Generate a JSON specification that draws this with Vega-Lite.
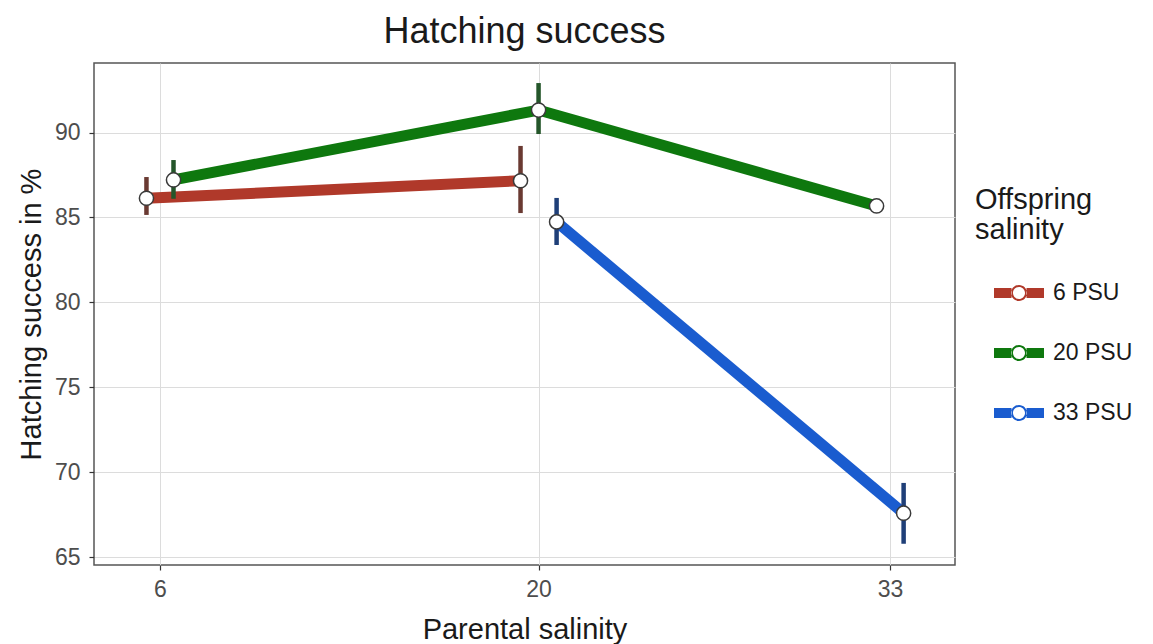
{
  "$schema": "https://vega.github.io/schema/vega-lite/v6.json",
  "width": 861,
  "height": 502,
  "autosize": "none",
  "padding": {"left": 94, "top": 63, "right": 198, "bottom": 79},
  "background": "white",
  "config": {
    "font": "Liberation Sans",
    "view": {"stroke": "#555555", "strokeWidth": 1.5},
    "axis": {
      "grid": true, "gridColor": "#dcdcdc", "gridWidth": 1,
      "domain": false, "tickColor": "#333333", "tickSize": 5, "tickWidth": 1.2,
      "labelFont": "Liberation Sans", "labelFontSize": 23, "labelColor": "#4d4d4d",
      "titleFont": "Liberation Sans", "titleFontSize": 29, "titleFontWeight": "normal", "titleColor": "#1a1a1a"
    },
    "legend": {
      "labelFont": "Liberation Sans", "labelFontSize": 23, "labelColor": "#1a1a1a",
      "titleFont": "Liberation Sans", "titleFontSize": 29, "titleFontWeight": "normal", "titleColor": "#1a1a1a"
    }
  },
  "title": {
    "text": "Hatching success",
    "fontSize": 36, "fontWeight": "normal", "color": "#1a1a1a", "font": "Liberation Sans",
    "anchor": "middle", "baseline": "alphabetic", "offset": -16
  },
  "data": {
    "values": [
      {"parental": 5.5, "offspring": "6 PSU", "mean": 86.13, "lo": 85.15, "hi": 87.38},
      {"parental": 19.333, "offspring": "6 PSU", "mean": 87.16, "lo": 85.26, "hi": 89.21},
      {"parental": 6.5, "offspring": "20 PSU", "mean": 87.21, "lo": 86.1, "hi": 88.38},
      {"parental": 20, "offspring": "20 PSU", "mean": 91.32, "lo": 89.91, "hi": 92.91},
      {"parental": 32.5, "offspring": "20 PSU", "mean": 85.68, "lo": 85.45, "hi": 85.9},
      {"parental": 20.667, "offspring": "33 PSU", "mean": 84.74, "lo": 83.38, "hi": 86.15},
      {"parental": 33.5, "offspring": "33 PSU", "mean": 67.6, "lo": 65.8, "hi": 69.38}
    ]
  },
  "layer": [
    {
      "mark": {"type": "line", "strokeWidth": 11, "strokeCap": "butt"},
      "encoding": {
        "x": {"field": "parental", "type": "quantitative",
              "scale": {"domain": [3.56, 35.4], "nice": false, "zero": false},
              "axis": {"values": [6, 20, 33], "title": "Parental salinity", "labelPadding": 8, "titlePadding": 14}},
        "y": {"field": "mean", "type": "quantitative",
              "scale": {"domain": [64.55, 94.09], "nice": false, "zero": false},
              "axis": {"values": [65, 70, 75, 80, 85, 90], "title": "Hatching success in %", "labelPadding": 9, "titlePadding": 8}},
        "color": {"field": "offspring", "type": "nominal",
                  "sort": ["6 PSU", "20 PSU", "33 PSU"],
                  "scale": {"domain": ["6 PSU", "20 PSU", "33 PSU"], "range": ["#B0392A", "#0E780E", "#1A5CCF"]},
                  "legend": {
                    "title": ["Offspring", "salinity"],
                    "orient": "none", "legendX": 881, "legendY": 123,
                    "padding": 0, "titleLineHeight": 30, "titlePadding": 23,
                    "symbolType": "M-0.24,-0.2H0.46V0.2H-0.24Z M1.06,-0.2H1.76V0.2H1.06Z M1.08,0 A0.32,0.32 0 1,0 0.44,0 A0.32,0.32 0 1,0 1.08,0 Z M1.0,0 A0.24,0.24 0 1,1 0.52,0 A0.24,0.24 0 1,1 1.0,0 Z",
                    "symbolSize": 2500, "symbolStrokeWidth": 0, "symbolOpacity": 1,
                    "labelOffset": 28, "rowPadding": 23,
                    "encode": {"symbols": {"update": {"fill": {"scale": "color", "field": "value"}, "strokeWidth": {"value": 0}}}}
                  }},
        "detail": {"field": "offspring"},
        "order": {"field": "parental", "type": "quantitative"}
      }
    },
    {
      "mark": {"type": "rule", "strokeWidth": 4.5},
      "encoding": {
        "x": {"field": "parental", "type": "quantitative"},
        "y": {"field": "lo", "type": "quantitative"},
        "y2": {"field": "hi"},
        "stroke": {"field": "offspring", "type": "nominal",
                   "scale": {"domain": ["6 PSU", "20 PSU", "33 PSU"], "range": ["#6A3A32", "#24562A", "#1F3F78"]},
                   "legend": null}
      }
    },
    {
      "mark": {"type": "point", "shape": "circle", "filled": true, "fill": "white", "stroke": "#3a3a3a", "strokeWidth": 1.5, "size": 200, "opacity": 1},
      "encoding": {
        "x": {"field": "parental", "type": "quantitative"},
        "y": {"field": "mean", "type": "quantitative"}
      }
    }
  ]
}
